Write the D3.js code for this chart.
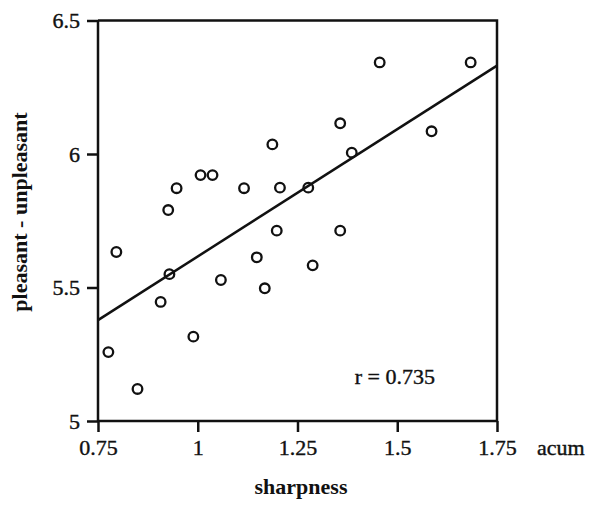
<!DOCTYPE html>
<html>
<head>
<meta charset="utf-8">
<script src="https://cdn.jsdelivr.net/npm/d3@7"></script>
<style>
  body { margin: 0; background: #fff; }
  text { font-family: "Liberation Serif", "Times New Roman", serif; fill: #111; }
</style>
</head>
<body>
<svg id="chart" width="592" height="514"></svg>
<script>
// sharpness (acum) vs pleasant - unpleasant
const sharpness = [0.776, 0.796, 0.849, 0.907, 0.926, 0.929, 0.947, 1.007, 1.037, 0.989,
                   1.058, 1.116, 1.187, 1.206, 1.277, 1.198, 1.148, 1.288, 1.168, 1.357,
                   1.357, 1.386, 1.456, 1.586, 1.684];
const pleasant  = [5.258, 5.633, 5.120, 5.446, 5.790, 5.550, 5.872, 5.921, 5.921, 5.316,
                   5.528, 5.872, 6.036, 5.874, 5.874, 5.713, 5.613, 5.583, 5.497, 5.713,
                   6.115, 6.005, 6.343, 6.085, 6.343];
// regression line
const fitX = [0.75, 1.75];
const fitY = [5.378, 6.331];
const xTicks = [0.75, 1, 1.25, 1.5, 1.75];
const yTicks = [5, 5.5, 6, 6.5];
const rLabel = "r = 0.735";

const svg = d3.select("#chart");
const margin = {left: 98, top: 20.5, right: 95, bottom: 93};
const W = 592, H = 514;
const fs = "22px";

const x = d3.scaleLinear().domain([0.75, 1.75]).range([margin.left, W - margin.right]);
const y = d3.scaleLinear().domain([5, 6.5]).range([H - margin.bottom, margin.top]);

// axes
const xAxis = svg.append("g")
    .attr("transform", `translate(0,${y(5)})`)
    .call(d3.axisBottom(x).tickValues(xTicks).tickFormat(d => d).tickSize(11).tickPadding(7));
const yAxis = svg.append("g")
    .attr("transform", `translate(${x(0.75)},0)`)
    .call(d3.axisLeft(y).tickValues(yTicks).tickFormat(d => d).tickSize(11).tickPadding(7));

[xAxis, yAxis].forEach(a => {
    a.attr("font-size", null).attr("font-family", null);
    a.select(".domain").attr("stroke", "#111").attr("stroke-width", 2.5);
    a.selectAll(".tick line").attr("stroke", "#111").attr("stroke-width", 2.5);
    a.selectAll(".tick text")
        .style("font-family", '"Liberation Serif", serif')
        .style("font-size", fs)
        .attr("fill", "#111")
        .attr("stroke", "#111")
        .attr("stroke-width", 0.4);
});
// remove outer tick stubs, keep the plain line
xAxis.select(".domain").attr("d", `M${x(0.75)},0H${x(1.75)}`);
yAxis.select(".domain").attr("d", `M0,${y(5)}V${y(6.5)}`);

// top and right frame
svg.append("path")
    .attr("d", `M${x(0.75)},${y(6.5)}H${x(1.75)}V${y(5)}`)
    .attr("fill", "none")
    .attr("stroke", "#111")
    .attr("stroke-width", 2.5);

// regression line
svg.append("line")
    .attr("x1", x(fitX[0])).attr("y1", y(fitY[0]))
    .attr("x2", x(fitX[1])).attr("y2", y(fitY[1]))
    .attr("stroke", "#111")
    .attr("stroke-width", 2.5);

// points
svg.append("g")
    .selectAll("circle")
    .data(d3.zip(sharpness, pleasant))
    .join("circle")
    .attr("cx", d => x(d[0]))
    .attr("cy", d => y(d[1]))
    .attr("r", 4.8)
    .attr("fill", "none")
    .attr("stroke", "#111")
    .attr("stroke-width", 2.3);

// labels
svg.append("text")
    .attr("x", x(1.494)).attr("y", y(5.14))
    .attr("text-anchor", "middle")
    .attr("stroke", "#111").attr("stroke-width", 0.4)
    .style("font-size", fs)
    .text(rLabel);

svg.append("text")
    .attr("x", 537).attr("y", y(5) + 34)
    .attr("stroke", "#111").attr("stroke-width", 0.4)
    .style("font-size", fs)
    .text("acum");

svg.append("text")
    .attr("x", 301).attr("y", 494)
    .attr("text-anchor", "middle")
    .style("font-size", fs)
    .style("font-weight", "bold")
    .text("sharpness");

svg.append("text")
    .attr("transform", "translate(27,212) rotate(-90)")
    .attr("text-anchor", "middle")
    .style("font-size", fs)
    .style("font-weight", "bold")
    .text("pleasant - unpleasant");
</script>
</body>
</html>
